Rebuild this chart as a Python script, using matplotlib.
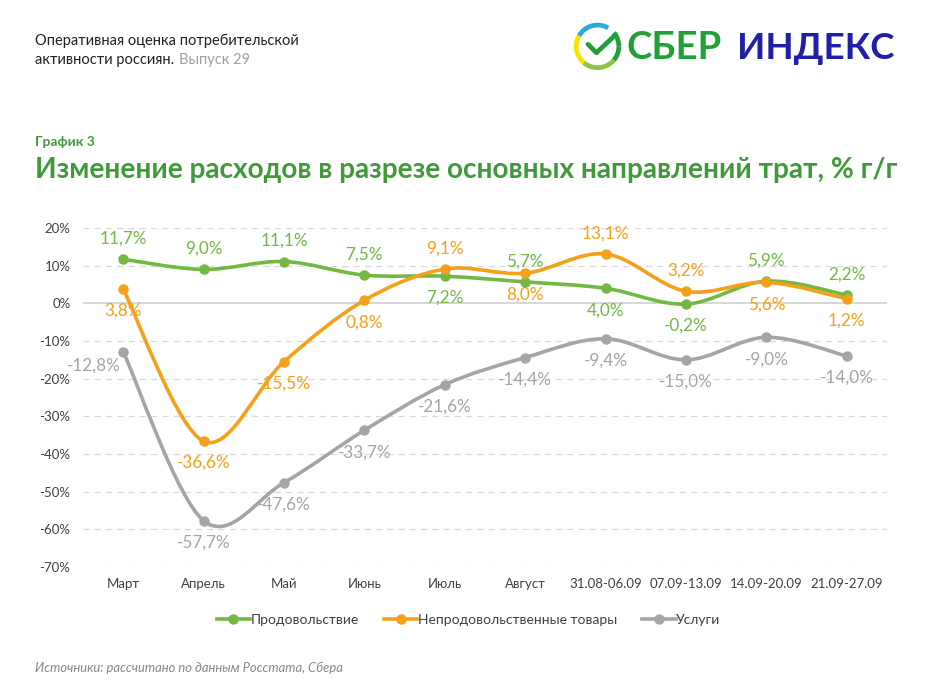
import numpy as np
import matplotlib.pyplot as plt
from matplotlib.path import Path
from matplotlib.patches import PathPatch, Arc

plt.rcParams['font.family'] = ['Lato', 'DejaVu Sans']

# === Data ===
categories = ['Март', 'Апрель', 'Май', 'Июнь', 'Июль', 'Август',
              '31.08-06.09', '07.09-13.09', '14.09-20.09', '21.09-27.09']
food = [11.7, 9.0, 11.1, 7.5, 7.2, 5.7, 4.0, -0.2, 5.9, 2.2]
nonfood = [3.8, -36.6, -15.5, 0.8, 9.1, 8.0, 13.1, 3.2, 5.6, 1.2]
services = [-12.8, -57.7, -47.6, -33.7, -21.6, -14.4, -9.4, -15.0, -9.0, -14.0]

# label placement: 'a' above, 'b' below, 'l' left
food_pos = ['a', 'a', 'a', 'a', 'b', 'a', 'b', 'b', 'a', 'a']
nonfood_pos = ['b', 'b', 'b', 'b', 'a', 'b', 'a', 'a', 'b', 'b']
services_pos = ['l', 'b', 'b', 'b', 'b', 'b', 'b', 'b', 'b', 'b']

GREEN = '#72b843'
ORANGE = '#f5a01a'
GRAY = '#a5a5a5'
TITLE_GREEN = '#3f9a3a'


def smooth_path(x, y, t=1 / 6):
    # bezier curve through all points (excel-like smoothing)
    x = np.asarray(x, float)
    y = np.asarray(y, float)
    n = len(x)
    verts = [(x[0], y[0])]
    codes = [Path.MOVETO]
    for i in range(n - 1):
        i0 = max(i - 1, 0)
        i3 = min(i + 2, n - 1)
        c1 = (x[i] + (x[i + 1] - x[i0]) * t, y[i] + (y[i + 1] - y[i0]) * t)
        c2 = (x[i + 1] - (x[i3] - x[i]) * t, y[i + 1] - (y[i3] - y[i]) * t)
        verts += [c1, c2, (x[i + 1], y[i + 1])]
        codes += [Path.CURVE4] * 3
    return Path(verts, codes)


fig = plt.figure(figsize=(9.3, 6.87), dpi=100)
ax = fig.add_axes([0.0892, 0.1747, 0.8645, 0.4934])

xs = np.arange(len(categories))
for vals, col, pos in [(food, GREEN, food_pos), (nonfood, ORANGE, nonfood_pos),
                       (services, GRAY, services_pos)]:
    ax.add_patch(PathPatch(smooth_path(xs, vals), facecolor='none', edgecolor=col,
                           lw=2.6, capstyle='round', zorder=3))
    ax.plot(xs, vals, 'o', color=col, ms=6.5, zorder=4)
    for xi, v, p in zip(xs, vals, pos):
        txt = f'{v:.1f}%'.replace('.', ',')
        if p == 'a':
            ax.annotate(txt, (xi, v), xytext=(0, 9), textcoords='offset points',
                        ha='center', va='bottom', color=col, fontsize=12.3)
        elif p == 'b':
            ax.annotate(txt, (xi, v), xytext=(0, -10), textcoords='offset points',
                        ha='center', va='top', color=col, fontsize=12.3)
        else:
            ax.annotate(txt, (xi, v), xytext=(-2, -10), textcoords='offset points',
                        ha='right', va='center', color=col, fontsize=12.3)

ax.set_xlim(-0.5, len(categories) - 0.5)
ax.set_ylim(-70, 20)
ax.set_yticks(np.arange(-70, 21, 10))
ax.set_yticklabels([f'{v}%' for v in range(-70, 21, 10)])
ax.set_xticks(xs)
ax.set_xticklabels(categories)
ax.tick_params(length=0, labelsize=9.5, colors='#404040', pad=8)
ax.tick_params(axis='y', pad=9)
for s in ax.spines.values():
    s.set_visible(False)
for v in range(-70, 21, 10):
    if v == 0:
        ax.axhline(0, color='#d0d0d0', lw=1.2, zorder=1)
    else:
        ax.axhline(v, color='#d9d9d9', lw=0.9, ls=(0, (5, 4)), zorder=1)

# legend
leg_items = [('Продовольствие', GREEN), ('Непродовольственные товары', ORANGE), ('Услуги', GRAY)]
handles = [plt.Line2D([], [], color=c, lw=2.6, marker='o', ms=6.5) for _, c in leg_items]
fig.legend(handles, [l for l, _ in leg_items], loc='center', bbox_to_anchor=(0.504, 0.097),
           ncol=3, frameon=False, fontsize=10, handlelength=2.4, columnspacing=1.8,
           handletextpad=0.05, labelcolor='#404040')

# header texts
fig.text(0.038, 0.94, 'Оперативная оценка потребительской', fontsize=10.5, color='#222222',
         va='center')
fig.text(0.038, 0.912, 'активности россиян. ', fontsize=10.5, color='#222222', va='center')
fig.text(0.192, 0.912, 'Выпуск 29', fontsize=10.5, color='#a0a0a0', va='center')

fig.text(0.038, 0.793, 'График 3', fontsize=10, color=TITLE_GREEN, fontweight='bold',
         va='center')
fig.text(0.038, 0.752, 'Изменение расходов в разрезе основных направлений трат, % г/г',
         fontsize=20.2, color=TITLE_GREEN, fontweight='bold', va='center')

fig.text(0.038, 0.028, 'Источники: рассчитано по данным Росстата, Сбера', fontsize=9.4,
         color='#888888', style='italic', va='center')

# logo
lax = fig.add_axes([0.615, 0.895, 0.055, 0.075])
lax.set_xlim(-1.2, 1.2)
lax.set_ylim(-1.2, 1.2)
lax.set_aspect('equal')
lax.axis('off')
for a1, a2, c in [(60, 150, '#2aa8e0'), (150, 230, '#f2e600'), (230, 320, '#8bc53f'),
                  (320, 360, '#21a038'), (0, 40, '#21a038')]:
    lax.add_patch(Arc((0, 0), 2, 2, theta1=a1, theta2=a2, color=c, lw=3.4))
lax.plot([-0.45, -0.05, 0.85], [0.1, -0.3, 0.55], color='#21a038', lw=3.4,
         solid_capstyle='round', solid_joinstyle='round')
fig.text(0.674, 0.93, 'СБЕР', fontsize=27.5, color='#21a038', fontweight='bold', va='center')
fig.text(0.792, 0.93, 'ИНДЕКС', fontsize=26.5, color='#1f1fa8', fontweight='bold', va='center')

fig.savefig('out.png', dpi=100, facecolor='white')
